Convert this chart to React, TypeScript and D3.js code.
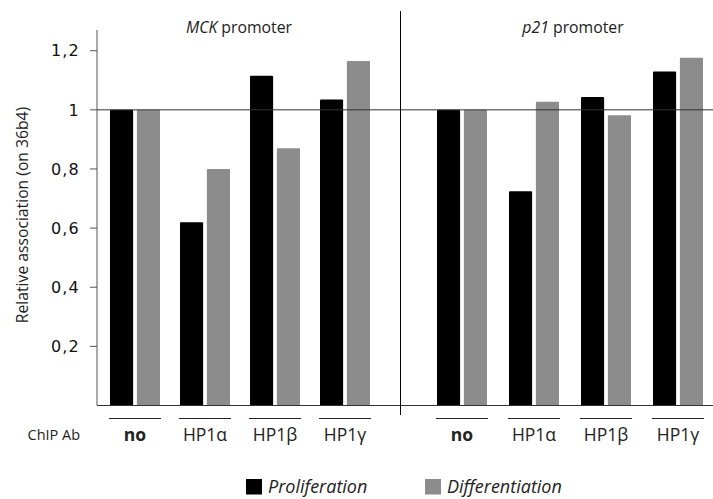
import React from "react";
import * as d3 from "d3";

const panels = ["MCK", "p21"];
const antibodies = ["no", "HP1\u03b1", "HP1\u03b2", "HP1\u03b3"];
const series = ["Proliferation", "Differentiation"];
const colors = ["#000000", "#8c8c8c"];

// values per panel, [proliferation, differentiation] for each antibody
const mckProlif = [1.0, 0.62, 1.115, 1.035];
const mckDiff = [1.0, 0.80, 0.87, 1.165];
const p21Prolif = [1.0, 0.725, 1.043, 1.13];
const p21Diff = [1.0, 1.027, 0.982, 1.176];

const yTicks = [0.2, 0.4, 0.6, 0.8, 1, 1.2];

const W = 713;
const H = 499;
const font = "'Open Sans', sans-serif";

const App = () => {
  const y = d3.scaleLinear().domain([0, 1.27]).range([405.5, 30]);
  const x0 = [
    d3.scaleBand().domain(antibodies).range([100, 380]),
    d3.scaleBand().domain(antibodies).range([426, 714]),
  ];
  const inner = d3.scaleBand().domain(series).range([-25, 25]).paddingInner(0.14);
  const data = [
    [mckProlif, mckDiff],
    [p21Prolif, p21Diff],
  ];
  const fmt = (v: number) => (v === 1 ? "1" : d3.format(".1f")(v).replace(".", ","));

  return (
    <svg width={W} height={H} style={{ position: "absolute", left: 0, top: 0 }}>
      <rect width={W} height={H} fill="#fff" />
      {/* bars */}
      {panels.map((p, pi) =>
        antibodies.map((ab, ai) =>
          series.map((s, si) => {
            const cx = x0[pi](ab)! + x0[pi].bandwidth() / 2;
            const v = data[pi][si][ai];
            return (
              <rect
                key={p + ab + s}
                x={cx + inner(s)!}
                y={y(v)}
                width={inner.bandwidth()}
                height={y(0) - y(v)}
                fill={colors[si]}
                rx={1}
              />
            );
          })
        )
      )}
      {/* reference line at 1 */}
      <line x1={97} x2={W} y1={y(1)} y2={y(1)} stroke="#333" strokeWidth={1} />
      {/* baseline */}
      <line x1={97} x2={W} y1={y(0)} y2={y(0)} stroke="#333" strokeWidth={1.2} />
      {/* y axis */}
      <line x1={97} x2={97} y1={30} y2={y(0)} stroke="#555" strokeWidth={1} />
      {yTicks.map((t) => (
        <g key={t}>
          <line x1={90} x2={97} y1={y(t)} y2={y(t)} stroke="#555" />
          <text
            x={80}
            y={y(t)}
            dy="0.36em"
            textAnchor="end"
            fontFamily="'DejaVu Sans', Verdana, sans-serif"
            fontSize={16}
            letterSpacing={1.2}
            fill="#111"
          >
            {fmt(t)}
          </text>
        </g>
      ))}
      <text
        transform={`translate(28,215) rotate(-90)`}
        textAnchor="middle"
        fontFamily={font}
        fontSize={15.7}
        fill="#222"
      >
        Relative association (on 36b4)
      </text>
      {/* panel divider */}
      <line x1={400.5} x2={400.5} y1={11} y2={415} stroke="#000" strokeWidth={1} />
      {/* titles */}
      <text x={239} y={32.5} textAnchor="middle" fontFamily={font} fontSize={15.8} fill="#222">
        <tspan fontStyle="italic">MCK</tspan> promoter
      </text>
      <text x={573} y={32.5} textAnchor="middle" fontFamily={font} fontSize={15.8} fill="#222">
        <tspan fontStyle="italic">p21</tspan> promoter
      </text>
      {/* category labels */}
      {panels.map((p, pi) =>
        antibodies.map((ab) => {
          const cx = x0[pi](ab)! + x0[pi].bandwidth() / 2;
          return (
            <g key={"lab" + p + ab}>
              <line x1={cx - 26} x2={cx + 26} y1={418.5} y2={418.5} stroke="#222" strokeWidth={1} />
              <text
                x={cx}
                y={441}
                textAnchor="middle"
                fontFamily={font}
                fontSize={17.5}
                fontWeight={ab === "no" ? "bold" : "normal"}
                fill="#222"
              >
                {ab}
              </text>
            </g>
          );
        })
      )}
      <text x={27.5} y={439.5} fontFamily={font} fontSize={14.5} fill="#222">
        ChIP Ab
      </text>
      {/* legend */}
      {series.map((s, si) => {
        const lx = si === 0 ? 246 : 425;
        return (
          <g key={"leg" + s}>
            <rect x={lx} y={479} width={16} height={15.5} fill={colors[si]} />
            <text
              x={lx + 22}
              y={492.5}
              fontFamily={font}
              fontStyle="italic"
              fontSize={18}
              fill="#222"
            >
              {s}
            </text>
          </g>
        );
      })}
    </svg>
  );
};

export default App;
